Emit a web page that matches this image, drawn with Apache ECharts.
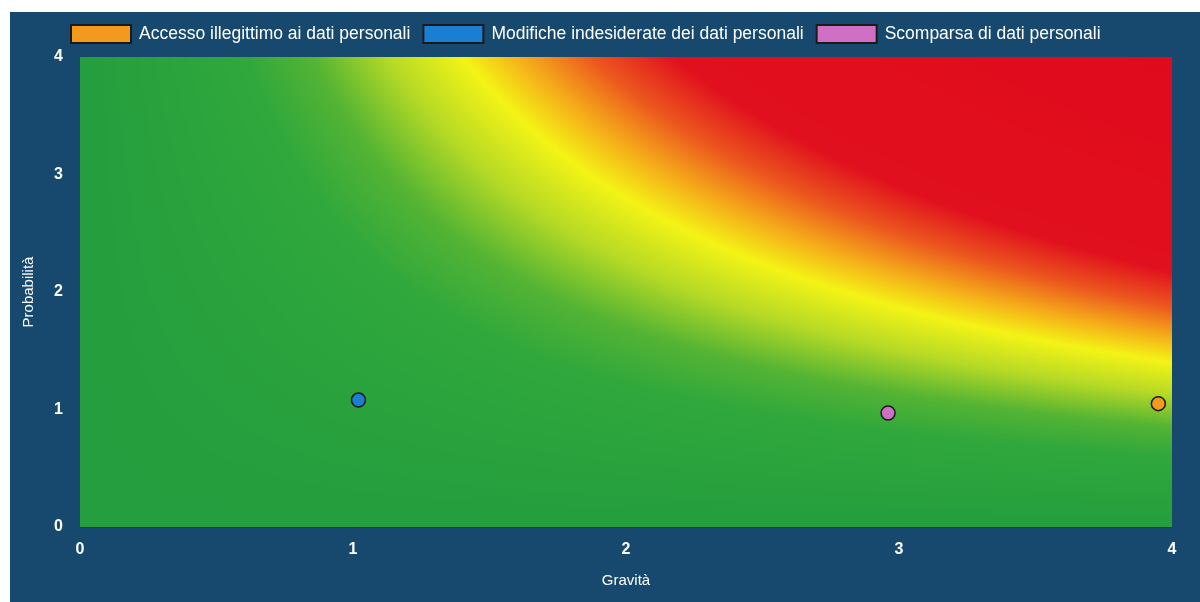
<!DOCTYPE html>
<html><head><meta charset="utf-8">
<script src="https://cdn.jsdelivr.net/npm/echarts@6/dist/echarts.min.js"></script>
<style>
html,body{margin:0;padding:0;background:#ffffff;width:1200px;height:602px;overflow:hidden;}
#c{position:absolute;left:10px;top:12px;width:1190px;height:590px;}
</style></head>
<body><div id="c"></div>
<script>
// ---- data ----
const seriesNames = ['Accesso illegittimo ai dati personali','Modifiche indesiderate dei dati personali','Scomparsa di dati personali'];
const seriesColors = ['#f39a1e','#1a7fd2','#d070c4'];
const accessoPoints = [[3.95, 1.05]];
const modifichePoints = [[1.02, 1.08]];
const scomparsaPoints = [[2.96, 0.97]];
const xTicks = [0,1,2,3,4];
const yTicks = [0,1,2,3,4];
const axisMin = 0, axisMax = 4;
const riskField = [[axisMin, axisMin, axisMax, axisMax]];

// ---- background gradient texture (risk = gravità × probabilità) ----
const stops = [
  [0, [36,158,62]],[2.4,[48,168,60]],[3.4,[84,180,52]],[4.5,[182,218,38]],
  [5.6,[244,244,22]],[6.5,[245,170,26]],[7.5,[236,86,30]],[8.7,[225,16,30]],[16,[224,10,28]]
];
function colorAt(p){
  for(let i=1;i<stops.length;i++){
    if(p<=stops[i][0]){
      const a=stops[i-1],b=stops[i];const t=(p-a[0])/(b[0]-a[0]);
      return [0,1,2].map(k=>Math.round(a[1][k]+(b[1][k]-a[1][k])*t));
    }
  }
  return stops[stops.length-1][1];
}
const W=400,H=200;
const tex=document.createElement('canvas');tex.width=W;tex.height=H;
const tctx=tex.getContext('2d');const img=tctx.createImageData(W,H);
for(let j=0;j<H;j++){for(let i=0;i<W;i++){
  const gx=axisMax*(i+0.5)/W, gy=axisMax*(1-(j+0.5)/H);
  const c=colorAt(gx*gy);const o=(j*W+i)*4;
  img.data[o]=c[0];img.data[o+1]=c[1];img.data[o+2]=c[2];img.data[o+3]=255;
}}
tctx.putImageData(img,0,0);

const chart=echarts.init(document.getElementById('c'));
const font="'Liberation Sans Narrow','Arial Narrow','Liberation Sans',Arial,sans-serif";
const scatterBase={type:'scatter',symbol:'circle',symbolSize:14,z:5};
function mk(i,data){
  return Object.assign({},scatterBase,{name:seriesNames[i],data:data,
    itemStyle:{color:seriesColors[i],opacity:1,borderColor:'#1a1a1a',borderWidth:1.5}});
}
chart.setOption({
  backgroundColor:'#17496f',
  animation:false,
  textStyle:{fontFamily:font},
  legend:{
    data:seriesNames, top:7, left:55, itemWidth:60, itemHeight:18, itemGap:12,
    icon:'rect',
    textStyle:{color:'#ffffff',fontSize:17.5,fontFamily:font,padding:[0,0,0,3]}
  },
  grid:{left:70,top:45,right:28,bottom:75},
  xAxis:{type:'value',min:axisMin,max:axisMax,interval:1,
    name:'Gravità',nameLocation:'middle',nameGap:46,
    nameTextStyle:{color:'#ffffff',fontSize:15,fontFamily:font},
    axisLine:{show:true,lineStyle:{color:'#1e3a2a',width:1}},axisTick:{show:false},splitLine:{show:false},
    axisLabel:{color:'#ffffff',fontSize:16,fontWeight:'bold',margin:15,fontFamily:'Liberation Sans, Arial, sans-serif',
      formatter:v=>xTicks.includes(v)?String(v):''}},
  yAxis:{type:'value',min:axisMin,max:axisMax,interval:1,
    name:'Probabilità',nameLocation:'middle',nameGap:44,
    nameTextStyle:{color:'#ffffff',fontSize:15,fontFamily:font},
    axisLine:{show:true,lineStyle:{color:'#1e3a2a',width:1}},axisTick:{show:false},splitLine:{show:false},
    axisLabel:{color:'#ffffff',fontSize:16,fontWeight:'bold',margin:17,fontFamily:'Liberation Sans, Arial, sans-serif',
      formatter:v=>yTicks.includes(v)?String(v):''}},
  series:[
    {type:'custom',name:'risk',data:riskField,z:1,silent:true,
      renderItem:function(params,api){
        const p0=api.coord([api.value(0),api.value(1)]);
        const p1=api.coord([api.value(2),api.value(3)]);
        return {type:'image',style:{image:tex,x:p0[0],y:p1[1],width:p1[0]-p0[0],height:p0[1]-p1[1]}};
      }},
    mk(0,accessoPoints), mk(1,modifichePoints), mk(2,scomparsaPoints)
  ]
});
</script></body></html>
